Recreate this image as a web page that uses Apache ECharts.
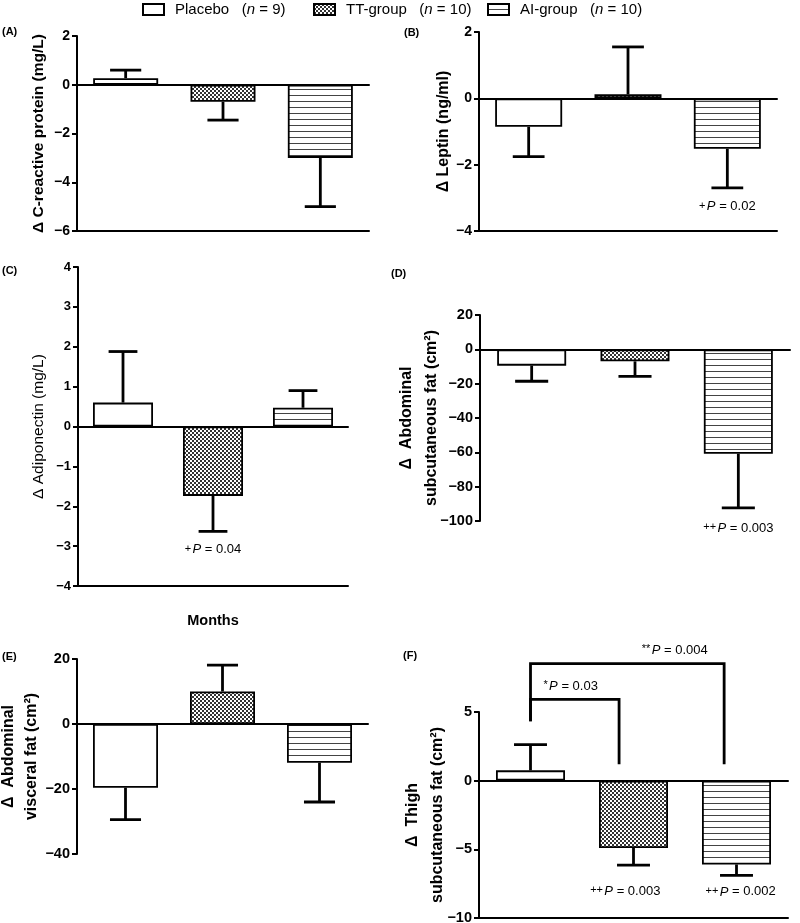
<!DOCTYPE html>
<html>
<head>
<meta charset="utf-8">
<script src="https://cdn.jsdelivr.net/npm/echarts@6/dist/echarts.min.js"></script>
<style>
html, body { margin: 0; padding: 0; background: #fff; }
#chart { width: 800px; height: 923px; }
</style>
</head>
<body>
<div id="chart"></div>
<script>
// groups and sample sizes
var groups = ['Placebo', 'TT-group', 'AI-group'];
var groupN = [9, 10, 10];

// (A) C-reactive protein, mean change and SEM
var crpMean = [0.27, -0.7, -3.0];
var crpSem = [0.33, 0.75, 2.0];
// (B) leptin
var leptinMean = [-0.86, 0.12, -1.52];
var leptinSem = [0.9, 1.43, 1.18];
// (C) adiponectin
var adipoMean = [0.6, -1.74, 0.47];
var adipoSem = [1.28, 0.89, 0.43];
// (D) abdominal subcutaneous fat
var abdSubMean = [-9.5, -7.0, -60.8];
var abdSubSem = [9.1, 8.7, 31.6];
// (E) abdominal visceral fat
var visceralMean = [-19.6, 10.0, -11.9];
var visceralSem = [9.8, 8.1, 12.1];
// (F) thigh subcutaneous fat
var thighMean = [0.75, -4.9, -6.1];
var thighSem = [1.87, 1.25, 0.8];

// y axes: min, max, step
var yMin = [-6, -4, -4, -100, -40, -10];
var yMax = [2, 2, 4, 20, 20, 5];
var yStep = [2, 2, 1, 20, 20, 5];

// p-value notes under bars (panel index, category position, y value)
var notePanel = [1, 2, 3, 5, 5];
var noteCat = [2, 1, 2, 0.92, 2.04];
var noteY = [-3.27, -3.09, -104.1, -8.04, -8.1];
var noteMark = ['+', '+', '++', '++', '++'];
var noteP = ['0.02', '0.04', '0.003', '0.003', '0.002'];

// comparison brackets in panel F
var brFrom = [0, 0];
var brTo = [0.86, 1.88];
var brTop = [5.92, 8.52];
var brLowL = [4.32, 4.32];
var brLowR = [1.19, 1.19];
var brMark = ['*', '**'];
var brP = ['0.03', '0.004'];
var brTextX = [0.39, 1.4];
var brTextY = [6.87, 9.49];

var FONT = '"Liberation Sans", Arial, sans-serif';

var panels = [
    { label: '(A)', lx: 2, ly: 26, mean: crpMean, sem: crpSem, name: '\u0394 C-reactive protein (mg/L)',
      left: 77, top: 36, width: 292, height: 195, bar: 65, bottomLine: true,
      tick: 14, nameSize: 15.5, nameWeight: 'bold', nameGap: 29, lineH: 18 },
    { label: '(B)', lx: 404, ly: 27, mean: leptinMean, sem: leptinSem, name: '\u0394 Leptin (ng/ml)',
      left: 479, top: 32, width: 298, height: 199, bar: 67, bottomLine: true,
      tick: 14, nameSize: 16, nameWeight: 'bold', nameGap: 26, lineH: 18 },
    { label: '(C)', lx: 2, ly: 265, mean: adipoMean, sem: adipoSem, name: '\u0394 Adiponectin (mg/L)',
      left: 78, top: 267, width: 270, height: 319, bar: 60, bottomLine: true,
      tick: 13, nameSize: 15.5, nameWeight: 'normal', nameGap: 30, lineH: 18 },
    { label: '(D)', lx: 391, ly: 268, mean: abdSubMean, sem: abdSubSem, name: '\u0394  Abdominal\nsubcutaneous fat (cm\u00b2)',
      left: 480, top: 315, width: 310, height: 206, bar: 69, bottomLine: false,
      tick: 14.5, nameSize: 16, nameWeight: 'bold', nameGap: 36, lineH: 25 },
    { label: '(E)', lx: 2, ly: 651, mean: visceralMean, sem: visceralSem, name: '\u0394  Abdominal\nvisceral fat (cm\u00b2)',
      left: 77, top: 659, width: 291, height: 195, bar: 65, bottomLine: false,
      tick: 14.5, nameSize: 16, nameWeight: 'bold', nameGap: 34, lineH: 23 },
    { label: '(F)', lx: 403, ly: 650, mean: thighMean, sem: thighSem, name: '\u0394  Thigh\nsubcutaneous fat (cm\u00b2)',
      left: 479, top: 712, width: 309, height: 206, bar: 69, bottomLine: true,
      tick: 14.5, nameSize: 16, nameWeight: 'bold', nameGap: 29, lineH: 25 }
];

function makeChecker() {
    var c = document.createElement('canvas');
    c.width = 4; c.height = 4;
    var g = c.getContext('2d');
    g.fillStyle = '#fff'; g.fillRect(0, 0, 4, 4);
    g.fillStyle = '#333';
    g.fillRect(0, 0, 2, 2); g.fillRect(2, 2, 2, 2);
    return c;
}
function makeStripes() {
    var c = document.createElement('canvas');
    c.width = 6; c.height = 6;
    var g = c.getContext('2d');
    g.fillStyle = '#fff'; g.fillRect(0, 0, 6, 6);
    g.fillStyle = '#444'; g.fillRect(0, 5, 6, 1);
    return c;
}

var fills = ['#fff', { image: makeChecker(), repeat: 'repeat' }, { image: makeStripes(), repeat: 'repeat' }];

function minusFmt(v) { return v < 0 ? '\u2212' + Math.abs(v) : String(v); }

function catPoint(api, c, y) {
    var i = Math.floor(c);
    var p = api.coord([i, y]);
    var band = api.coord([1, y])[0] - api.coord([0, y])[0];
    return [p[0] + (c - i) * band, p[1]];
}

function pStyle(mark, p, size) {
    return {
        text: '{s|' + mark + '}{g| }{i|P}{n| = ' + p + '}',
        rich: {
            s: { fontSize: size - 2, fontFamily: FONT, fill: '#000', verticalAlign: 'top' },
            g: { fontSize: 5, fontFamily: FONT, fill: '#000' },
            i: { fontSize: size, fontFamily: FONT, fill: '#000', fontStyle: 'italic' },
            n: { fontSize: size, fontFamily: FONT, fill: '#000' }
        },
        fill: '#000', fontSize: size, fontFamily: FONT,
        align: 'center', verticalAlign: 'middle'
    };
}

function renderErr(params, api) {
    var c = api.value(0), m = api.value(1), e = api.value(2);
    var p0 = api.coord([c, m]);
    var p1 = api.coord([c, e]);
    var band = api.coord([1, 0])[0] - api.coord([0, 0])[0];
    var half = band * 0.16;
    var st = { stroke: '#000', lineWidth: 2.8 };
    return { type: 'group', children: [
        { type: 'line', shape: { x1: p0[0], y1: p0[1], x2: p1[0], y2: p1[1] }, style: st },
        { type: 'line', shape: { x1: p1[0] - half, y1: p1[1], x2: p1[0] + half, y2: p1[1] }, style: st }
    ] };
}

var grid = [], xAxis = [], yAxis = [], series = [], title = [];

panels.forEach(function (pn, i) {
    grid.push({ left: pn.left, top: pn.top, width: pn.width, height: pn.height, containLabel: false, outerBoundsMode: 'none' });
    title.push({ text: pn.label, left: pn.lx, top: pn.ly, padding: 0,
        textStyle: { fontSize: 11, fontWeight: 'bold', fontFamily: FONT, color: '#000' } });

    xAxis.push({ gridIndex: i, type: 'category', data: groups,
        axisLine: { show: true, onZero: true, lineStyle: { color: '#000', width: 2 } },
        axisTick: { show: false }, axisLabel: { show: false }, splitLine: { show: false } });
    xAxis.push({ gridIndex: i, type: 'category', data: groups, position: 'bottom',
        axisLine: { show: pn.bottomLine, onZero: false, lineStyle: { color: '#000', width: 2 } },
        axisTick: { show: false }, axisLabel: { show: false }, splitLine: { show: false },
        name: i === 2 ? 'Months' : '', nameLocation: 'middle', nameGap: 27, nameMoveOverlap: false,
        nameTextStyle: { fontSize: 14.5, fontWeight: 'bold', fontFamily: FONT, color: '#000' } });

    yAxis.push({ gridIndex: i, type: 'value', min: yMin[i], max: yMax[i], interval: yStep[i],
        axisLine: { show: true, lineStyle: { color: '#000', width: 2 } },
        axisTick: { show: true, length: 5, lineStyle: { color: '#000', width: 2 } },
        axisLabel: { color: '#000', fontWeight: 'bold', fontSize: pn.tick, fontFamily: FONT, margin: 7, formatter: minusFmt },
        splitLine: { show: false },
        name: pn.name, nameLocation: 'middle', nameRotate: 90, nameGap: pn.nameGap, nameMoveOverlap: false,
        nameTextStyle: { fontSize: pn.nameSize, fontWeight: pn.nameWeight, fontFamily: FONT, color: '#000', lineHeight: pn.lineH } });

    groups.forEach(function (gName, g) {
        series.push({ type: 'bar', name: gName, xAxisIndex: 2 * i, yAxisIndex: i,
            data: pn.mean.map(function (v, k) { return k === g ? v : '-'; }),
            barWidth: pn.bar, barGap: '-100%', silent: true,
            itemStyle: { color: fills[g], borderColor: '#000', borderWidth: 1.8 } });
    });

    series.push({ type: 'custom', xAxisIndex: 2 * i, yAxisIndex: i, silent: true, z: 3,
        data: pn.mean.map(function (m, k) { return [k, m, m + (m >= 0 ? 1 : -1) * pn.sem[k]]; }),
        renderItem: renderErr });

    var idx = [];
    notePanel.forEach(function (p, n) { if (p === i) idx.push(n); });
    if (idx.length) {
        series.push({ type: 'custom', xAxisIndex: 2 * i, yAxisIndex: i, silent: true, clip: false, z: 4,
            data: idx.map(function (n) { return [Math.round(noteCat[n]), noteY[n]]; }),
            renderItem: function (params, api) {
                var n = idx[params.dataIndex];
                var p = catPoint(api, noteCat[n], noteY[n]);
                return { type: 'text', x: p[0], y: p[1], style: pStyle(noteMark[n], noteP[n], 13) };
            } });
    }
});

// brackets on panel F
series.push({ type: 'custom', xAxisIndex: 10, yAxisIndex: 5, silent: true, clip: false, z: 4,
    data: brFrom.map(function (f, k) { return [f, brTop[k]]; }),
    renderItem: function (params, api) {
        var k = params.dataIndex;
        var a = catPoint(api, brFrom[k], brLowL[k]);
        var b = catPoint(api, brFrom[k], brTop[k]);
        var c = catPoint(api, brTo[k], brTop[k]);
        var d = catPoint(api, brTo[k], brLowR[k]);
        var t = catPoint(api, brTextX[k], brTextY[k]);
        return { type: 'group', children: [
            { type: 'polyline', shape: { points: [a, b, c, d] }, style: { stroke: '#000', lineWidth: 2.8, fill: null } },
            { type: 'text', x: t[0], y: t[1], style: pStyle(brMark[k], brP[k], 13) }
        ] };
    } });

var legendLeft = [142, 313, 487];
var legend = groups.map(function (gName, g) {
    return {
        data: [gName], left: legendLeft[g], top: 2, padding: 0, orient: 'horizontal',
        icon: 'rect', itemWidth: 21, itemHeight: 11, selectedMode: false,
        formatter: function (name) { return name + '   ({i|n} = ' + groupN[g] + ')'; },
        textStyle: { fontSize: 15, fontFamily: FONT, color: '#000', padding: [0, 0, 0, 6],
            rich: { i: { fontSize: 15, fontFamily: FONT, color: '#000', fontStyle: 'italic' } } }
    };
});

var chart = echarts.init(document.getElementById('chart'), null, { renderer: 'canvas' });
chart.setOption({
    animation: false,
    backgroundColor: '#fff',
    title: title,
    legend: legend,
    grid: grid,
    xAxis: xAxis,
    yAxis: yAxis,
    series: series
});
</script>
</body>
</html>
